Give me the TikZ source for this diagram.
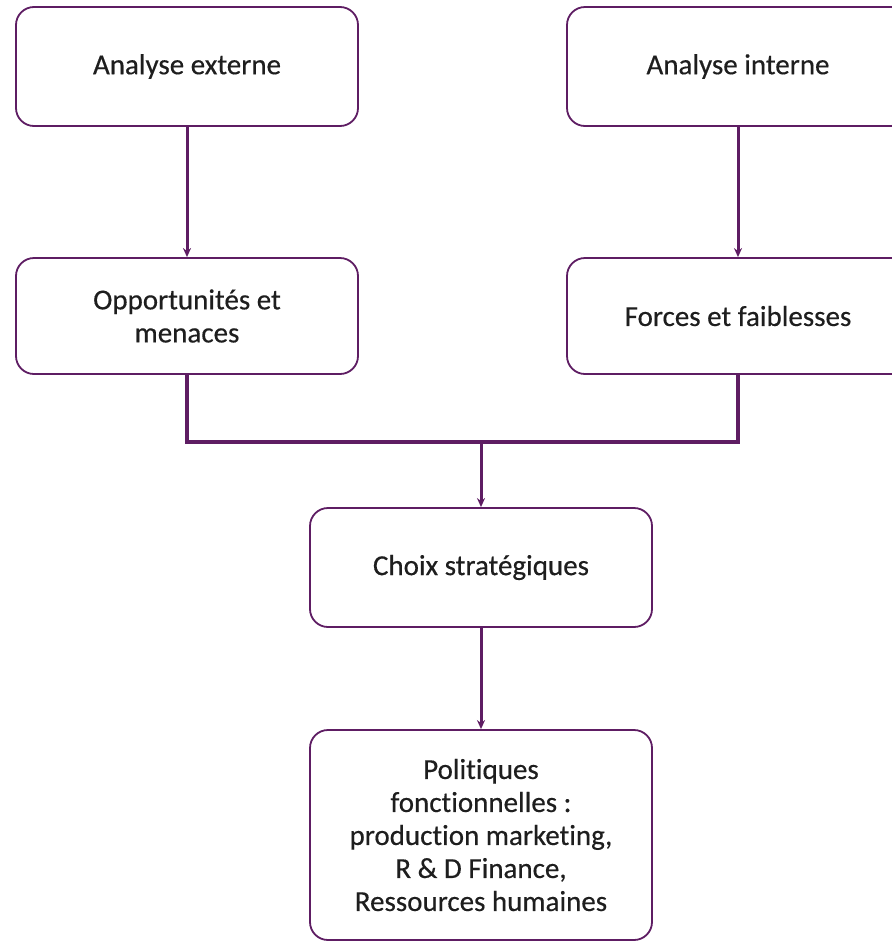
\documentclass[tikz,border=0pt]{standalone}
\usepackage{fontspec}
\setmainfont{Carlito}[Ligatures={NoCommon}, FakeBold=0.4]
\usetikzlibrary{arrows.meta}
\definecolor{plum}{HTML}{5E1D63}
\definecolor{ink}{HTML}{1E1E1E}
\tikzset{
  box/.style={draw=plum, line width=1.8pt, rounded corners=18pt, fill=white,
    minimum width=342pt, inner sep=0pt, align=center, text=ink,
    font=\fontsize{29}{33}\selectfont},
  link/.style={draw=plum, line width=4pt},
  arr/.style={draw=plum, line width=3pt, -{Stealth[length=9pt,width=8pt]}},
}
\begin{document}
\begin{tikzpicture}[x=1pt,y=-1pt]
\useasboundingbox (0,0) rectangle (892,943);
\clip (0,0) rectangle (892,943);
% top row
\node[box, minimum height=119pt] (ae) at (187,66.5) {Analyse externe};
\node[box, minimum height=119pt] (ai) at (738,66.5) {Analyse interne};
% second row
\node[box, minimum height=116pt] (om) at (187,316) {Opportunités et\\menaces};
\node[box, minimum height=116pt] (ff) at (738,316) {Forces et faiblesses};
% lower boxes
\node[box, minimum height=119pt] (cs) at (481,567.5) {Choix stratégiques};
\node[box, minimum height=210pt] (pf) at (481,835) {Politiques\\fonctionnelles :\\production marketing,\\R \& D Finance,\\Ressources humaines};
% junction points of the merge line
\coordinate (jl) at (187,442);
\coordinate (jr) at (738,442);
\coordinate (jm) at (481,442);
% connectors
\draw[arr] (ae) -- (om);
\draw[arr] (ai) -- (ff);
\draw[link] (om.south) -- (jl) -- (jr) -- (ff.south);
\draw[arr] (jm) -- (cs.north);
\draw[arr] (cs) -- (pf);
\end{tikzpicture}
\end{document}
